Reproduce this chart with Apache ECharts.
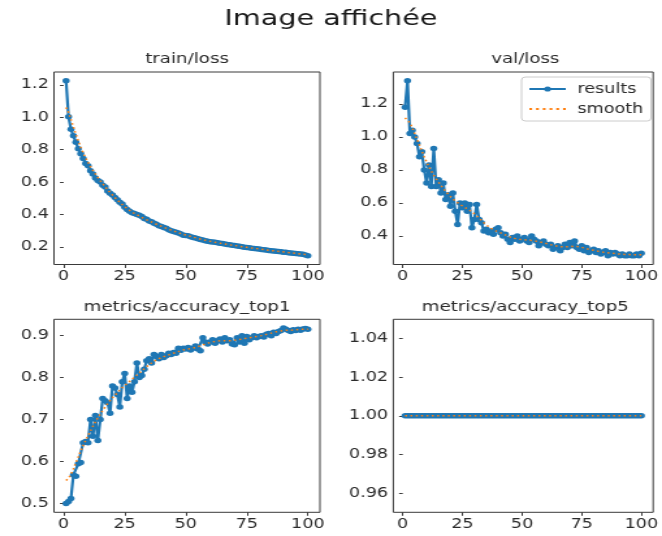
<!DOCTYPE html>
<html>
<head>
<meta charset="utf-8">
<script src="https://cdn.jsdelivr.net/npm/echarts@6/dist/echarts.min.js"></script>
<style>
  html, body { margin: 0; padding: 0; background: #fff; overflow: hidden; }
  /* the figure is laid out narrow and widened horizontally */
  #chart { width: 509px; height: 536px; transform: scaleX(1.3006); transform-origin: 0 0; }
</style>
</head>
<body>
<div id="chart"></div>
<script>
// training epochs
const epochs = [
  1,2,3,4,5,6,7,8,9,10,11,12,13,14,15,16,17,18,19,20,
  21,22,23,24,25,26,27,28,29,30,31,32,33,34,35,36,37,38,39,40,
  41,42,43,44,45,46,47,48,49,50,51,52,53,54,55,56,57,58,59,60,
  61,62,63,64,65,66,67,68,69,70,71,72,73,74,75,76,77,78,79,80,
  81,82,83,84,85,86,87,88,89,90,91,92,93,94,95,96,97,98,99,100
];

const trainLoss = [
  1.225,1.003,0.925,0.885,0.845,0.805,0.775,0.745,0.715,0.700,
  0.670,0.650,0.625,0.610,0.600,0.580,0.570,0.545,0.530,0.520,
  0.505,0.490,0.475,0.465,0.445,0.430,0.420,0.410,0.405,0.400,
  0.395,0.388,0.375,0.370,0.360,0.355,0.345,0.340,0.330,0.325,
  0.320,0.315,0.305,0.300,0.295,0.290,0.285,0.280,0.272,0.270,
  0.268,0.262,0.258,0.255,0.250,0.245,0.242,0.238,0.235,0.232,
  0.230,0.228,0.225,0.222,0.220,0.218,0.215,0.213,0.210,0.208,
  0.205,0.203,0.200,0.198,0.196,0.194,0.192,0.190,0.188,0.186,
  0.184,0.182,0.180,0.178,0.176,0.175,0.173,0.171,0.169,0.167,
  0.166,0.164,0.162,0.161,0.159,0.157,0.156,0.154,0.150,0.145
];
const trainLossSmooth = [
  1.060,1.030,0.985,0.940,0.895,0.855,0.815,0.780,0.750,0.722,
  0.696,0.672,0.650,0.628,0.608,0.589,0.571,0.553,0.536,0.520,
  0.504,0.489,0.475,0.461,0.448,0.436,0.425,0.415,0.406,0.398,
  0.390,0.382,0.374,0.367,0.360,0.353,0.346,0.340,0.333,0.327,
  0.321,0.315,0.309,0.303,0.298,0.292,0.287,0.282,0.277,0.273,
  0.269,0.264,0.260,0.256,0.252,0.248,0.244,0.240,0.237,0.234,
  0.231,0.228,0.225,0.223,0.220,0.218,0.215,0.213,0.210,0.208,
  0.206,0.203,0.201,0.199,0.197,0.195,0.193,0.191,0.189,0.187,
  0.185,0.183,0.181,0.179,0.177,0.175,0.174,0.172,0.170,0.168,
  0.167,0.165,0.163,0.161,0.160,0.158,0.156,0.155,0.153,0.152
];

const valLoss = [
  1.18,1.34,1.02,1.04,1.00,0.96,0.88,0.91,0.80,0.72,
  0.83,0.70,0.93,0.70,0.74,0.66,0.72,0.62,0.65,0.58,
  0.66,0.55,0.47,0.60,0.57,0.60,0.55,0.59,0.45,0.50,
  0.59,0.50,0.48,0.43,0.44,0.42,0.43,0.41,0.44,0.45,
  0.42,0.40,0.41,0.38,0.36,0.39,0.38,0.40,0.37,0.38,
  0.39,0.37,0.36,0.40,0.38,0.37,0.34,0.36,0.37,0.35,
  0.34,0.35,0.32,0.33,0.34,0.31,0.33,0.35,0.33,0.36,
  0.34,0.37,0.33,0.32,0.34,0.31,0.33,0.30,0.31,0.32,
  0.30,0.31,0.29,0.30,0.31,0.28,0.30,0.29,0.30,0.29,
  0.28,0.29,0.28,0.28,0.29,0.28,0.28,0.29,0.28,0.295
];
const valLossSmooth = [
  1.115,1.105,1.085,1.055,1.020,0.985,0.950,0.915,0.880,0.848,
  0.818,0.792,0.768,0.746,0.726,0.706,0.688,0.670,0.654,0.639,
  0.625,0.612,0.600,0.590,0.581,0.573,0.565,0.556,0.546,0.535,
  0.522,0.508,0.494,0.480,0.467,0.456,0.446,0.438,0.431,0.425,
  0.419,0.413,0.406,0.400,0.394,0.389,0.385,0.382,0.380,0.378,
  0.377,0.376,0.375,0.373,0.371,0.368,0.365,0.362,0.359,0.355,
  0.351,0.347,0.343,0.340,0.337,0.335,0.334,0.334,0.335,0.336,
  0.337,0.337,0.336,0.334,0.331,0.327,0.323,0.319,0.316,0.313,
  0.310,0.307,0.304,0.301,0.299,0.297,0.296,0.294,0.293,0.291,
  0.290,0.289,0.288,0.287,0.287,0.286,0.286,0.286,0.286,0.286
];

const accTop1 = [
  0.500,0.505,0.512,0.568,0.565,0.595,0.598,0.645,0.648,0.645,
  0.700,0.660,0.710,0.650,0.700,0.750,0.745,0.740,0.715,0.780,
  0.775,0.760,0.730,0.790,0.810,0.750,0.780,0.765,0.790,0.835,
  0.800,0.805,0.820,0.840,0.845,0.835,0.855,0.850,0.845,0.855,
  0.848,0.852,0.858,0.855,0.860,0.858,0.870,0.865,0.870,0.868,
  0.872,0.866,0.870,0.875,0.868,0.864,0.895,0.885,0.880,0.885,
  0.890,0.882,0.888,0.892,0.885,0.895,0.888,0.890,0.880,0.878,
  0.895,0.885,0.900,0.882,0.898,0.890,0.895,0.900,0.895,0.898,
  0.900,0.897,0.903,0.905,0.900,0.908,0.905,0.910,0.912,0.918,
  0.915,0.912,0.910,0.914,0.912,0.915,0.913,0.916,0.917,0.915
];
const accTop1Smooth = [
  0.555,0.560,0.570,0.583,0.597,0.611,0.625,0.638,0.650,0.662,
  0.673,0.684,0.694,0.704,0.713,0.722,0.730,0.738,0.745,0.752,
  0.758,0.764,0.770,0.776,0.781,0.786,0.791,0.796,0.801,0.806,
  0.811,0.816,0.821,0.826,0.831,0.835,0.839,0.842,0.845,0.848,
  0.850,0.852,0.854,0.856,0.858,0.860,0.862,0.864,0.866,0.867,
  0.868,0.869,0.870,0.872,0.874,0.876,0.878,0.880,0.882,0.884,
  0.885,0.886,0.887,0.887,0.888,0.888,0.888,0.888,0.888,0.889,
  0.890,0.891,0.892,0.893,0.894,0.895,0.896,0.897,0.898,0.899,
  0.900,0.901,0.903,0.905,0.906,0.908,0.909,0.910,0.911,0.912,
  0.913,0.913,0.913,0.914,0.914,0.914,0.915,0.915,0.915,0.915
];

const accTop5 = [
  1,1,1,1,1,1,1,1,1,1, 1,1,1,1,1,1,1,1,1,1,
  1,1,1,1,1,1,1,1,1,1, 1,1,1,1,1,1,1,1,1,1,
  1,1,1,1,1,1,1,1,1,1, 1,1,1,1,1,1,1,1,1,1,
  1,1,1,1,1,1,1,1,1,1, 1,1,1,1,1,1,1,1,1,1,
  1,1,1,1,1,1,1,1,1,1, 1,1,1,1,1,1,1,1,1,1
];
const accTop5Smooth = [
  1,1,1,1,1,1,1,1,1,1, 1,1,1,1,1,1,1,1,1,1,
  1,1,1,1,1,1,1,1,1,1, 1,1,1,1,1,1,1,1,1,1,
  1,1,1,1,1,1,1,1,1,1, 1,1,1,1,1,1,1,1,1,1,
  1,1,1,1,1,1,1,1,1,1, 1,1,1,1,1,1,1,1,1,1,
  1,1,1,1,1,1,1,1,1,1, 1,1,1,1,1,1,1,1,1,1
];

const xTicks = [0, 25, 50, 75, 100];
const trainTicks = [0.2, 0.4, 0.6, 0.8, 1.0, 1.2];
const valTicks = [0.4, 0.6, 0.8, 1.0, 1.2];
const top1Ticks = [0.5, 0.6, 0.7, 0.8, 0.9];
const top5Ticks = [0.96, 0.98, 1.00, 1.02, 1.04];

const panelTitles = ['train/loss', 'val/loss', 'metrics/accuracy_top1', 'metrics/accuracy_top5'];
const figureTitle = 'Image affichée';

const BLUE = '#1f77b4';
const ORANGE = '#ff7f0e';
const INK = '#2b2b2b';
const FONT = 'DejaVu Sans';

const pairs = (ys) => ys.map((v, i) => [epochs[i], v]);

// auto-scaled range with 5% padding, like the plotting defaults
function padded(arrs) {
  let lo = Infinity, hi = -Infinity;
  arrs.forEach(a => a.forEach(v => { lo = Math.min(lo, v); hi = Math.max(hi, v); }));
  if (hi - lo < 1e-9) { return [lo - 0.05, hi + 0.05]; }
  const m = (hi - lo) * 0.05;
  return [lo - m, hi + m];
}

const grids = [
  { left: 41.5, top: 72, width: 204.5, height: 192.5 },
  { left: 302.4, top: 72, width: 203, height: 192.5 },
  { left: 41.5, top: 319.3, width: 204.5, height: 193 },
  { left: 302.4, top: 319.3, width: 203, height: 193 }
].map(g => Object.assign({ show: true, borderColor: '#3a3a3a', borderWidth: 1, backgroundColor: '#fff', containLabel: false }, g));

const xRange = padded([epochs]);
const xAxes = grids.map((g, i) => ({
  type: 'value', gridIndex: i, min: xRange[0], max: xRange[1],
  axisLine: { show: false },
  splitLine: { show: false },
  axisTick: { show: true, customValues: xTicks, length: 3.5, lineStyle: { color: '#3a3a3a' } },
  axisLabel: { customValues: xTicks, margin: 5, fontSize: 13.5, fontFamily: FONT, color: INK }
}));

const panels = [
  { ys: trainLoss, smooth: trainLossSmooth, ticks: trainTicks, digits: 1 },
  { ys: valLoss, smooth: valLossSmooth, ticks: valTicks, digits: 1 },
  { ys: accTop1, smooth: accTop1Smooth, ticks: top1Ticks, digits: 1 },
  { ys: accTop5, smooth: accTop5Smooth, ticks: top5Ticks, digits: 2 }
];

const yAxes = panels.map((p, i) => {
  const r = padded([p.ys, p.smooth]);
  return {
    type: 'value', gridIndex: i, min: r[0], max: r[1],
    axisLine: { show: false },
    splitLine: { show: false },
    axisTick: { show: true, customValues: p.ticks, length: 2.8, lineStyle: { color: '#3a3a3a' } },
    axisLabel: {
      customValues: p.ticks, margin: 4, fontSize: 13.5, fontFamily: FONT, color: INK,
      formatter: (v) => v.toFixed(p.digits)
    }
  };
});

const series = [];
panels.forEach((p, i) => {
  series.push({
    name: 'results', type: 'line', xAxisIndex: i, yAxisIndex: i,
    data: pairs(p.ys), symbol: 'circle', symbolSize: 5.5, showSymbol: true,
    lineStyle: { color: BLUE, width: 2.2 }, itemStyle: { color: BLUE },
    silent: true, animation: false, z: 2
  });
  series.push({
    name: 'smooth', type: 'line', xAxisIndex: i, yAxisIndex: i,
    data: pairs(p.smooth), symbol: 'none',
    lineStyle: { color: ORANGE, width: 1.5, type: [1.5, 2.6] }, itemStyle: { color: ORANGE },
    silent: true, animation: false, z: 3
  });
});

const titleCenters = [
  [143.8, 59], [403.9, 59], [143.8, 307], [403.9, 307]
];
const graphics = [
  { type: 'text', x: 254.5, y: 19, style: { text: figureTitle, textAlign: 'center', textVerticalAlign: 'middle', font: '22px "DejaVu Sans"', fill: '#1a1a1a' } }
].concat(panelTitles.map((t, i) => ({
  type: 'text', x: titleCenters[i][0], y: titleCenters[i][1],
  style: { text: t, textAlign: 'center', textVerticalAlign: 'middle', font: '14px "DejaVu Sans"', fill: INK }
})));

// dotted-line key for the smoothed curve
const dottedKey = 'path://M0,0h2v2h-2z M5,0h2v2h-2z M10,0h2v2h-2z M15,0h2v2h-2z M20,0h2v2h-2z M25,0h2v2h-2z';

const chart = echarts.init(document.getElementById('chart'), null, { renderer: 'canvas' });
chart.setOption({
  animation: false,
  backgroundColor: '#fff',
  textStyle: { fontFamily: FONT },
  grid: grids,
  xAxis: xAxes,
  yAxis: yAxes,
  series: series,
  graphic: graphics,
  legend: {
    data: [{ name: 'results' }, { name: 'smooth', icon: dottedKey }],
    orient: 'vertical', left: 401, top: 77,
    itemWidth: 28, itemHeight: 6.5, itemGap: 6,
    symbolKeepAspect: true,
    padding: [5, 6, 5, 5],
    borderColor: '#cccccc', borderWidth: 1, borderRadius: 3,
    backgroundColor: 'rgba(255,255,255,0.85)',
    selectedMode: false,
    textStyle: { fontSize: 13.5, fontFamily: FONT, color: INK, padding: [0, 0, 0, 4] }
  }
});
</script>
</body>
</html>
